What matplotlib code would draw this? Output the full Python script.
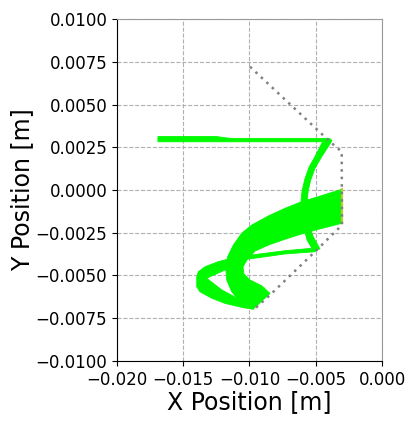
import numpy as np
import matplotlib
matplotlib.use("Agg")
import matplotlib.pyplot as plt


# =========================
# 1. SWEPT LINK REGIONS [m]
# =========================

# upper horizontal link
bar_x = [-0.01691, -0.01253, -0.01147, -0.00393, -0.00385, -0.01691]
bar_y = [0.00313, 0.00313, 0.00302, 0.00302, 0.00282, 0.00282]

# thin curved link down to the elbow
curve_x = [-0.00438, -0.00506, -0.00549, -0.00581, -0.00602, -0.00611, -0.00608,
           -0.00589, -0.00566, -0.00521,
           -0.00468, -0.00519, -0.00547, -0.00562, -0.00564, -0.00556, -0.00538,
           -0.00506, -0.00455, -0.00393, -0.00377]
curve_y = [0.00298, 0.00195, 0.00136, 0.00068, 0.00000, -0.00058, -0.00146,
           -0.00222, -0.00292, -0.00351,
           -0.00345, -0.00273, -0.00211, -0.00135, -0.00058, 0.00000, 0.00058,
           0.00127, 0.00195, 0.00269, 0.00292]

# wide sweep from the base to the tip
sweep_x = [-0.00304, -0.00481, -0.00606, -0.00732, -0.00858, -0.00983, -0.01059,
           -0.01122, -0.01165, -0.01180, -0.01172, -0.01134, -0.01072, -0.01009,
           -0.00971, -0.00845,
           -0.00906, -0.00996, -0.01042, -0.01049, -0.01019, -0.00958, -0.00858,
           -0.00732, -0.00606, -0.00481, -0.00304]
sweep_y = [0.00004, -0.00039, -0.00068, -0.00107, -0.00152, -0.00205, -0.00253,
           -0.00322, -0.00390, -0.00449, -0.00526, -0.00595, -0.00653, -0.00682,
           -0.00696, -0.00605,
           -0.00561, -0.00526, -0.00491, -0.00450, -0.00409, -0.00357, -0.00322,
           -0.00288, -0.00257, -0.00230, -0.00195]

# link from the elbow, looping round to the tip
loop_x = [-0.00481, -0.00531, -0.00732, -0.00983, -0.01109, -0.01235, -0.01336,
          -0.01386, -0.01398, -0.01398, -0.01374, -0.01285, -0.01185, -0.01059,
          -0.00971,
          -0.00996, -0.01109, -0.01208, -0.01323, -0.01185, -0.01009, -0.00732,
          -0.00506]
loop_y = [-0.00345, -0.00341, -0.00355, -0.00380, -0.00394, -0.00419, -0.00449,
          -0.00478, -0.00507, -0.00566, -0.00595, -0.00633, -0.00663, -0.00686,
          -0.00698,
          -0.00667, -0.00626, -0.00585, -0.00516, -0.00468, -0.00404, -0.00374,
          -0.00361]

# reference configuration (dotted)
ref_x = [-0.00996, -0.00393, -0.00304, -0.00302, -0.00493, -0.00845, -0.00971]
ref_y = [0.00721, 0.00283, 0.00224, -0.00205, -0.00351, -0.00614, -0.00702]

# base segment
base_x = [-0.00300, -0.00300]
base_y = [0.00004, -0.00195]


# =========================
# 2. PLOT
# =========================

fig = plt.figure(figsize=(4.09, 4.23), dpi=100)
ax = fig.add_axes([0.286, 0.1466, 0.648, 0.8084])

green = "#00fa00"
for xs, ys in [(bar_x, bar_y), (curve_x, curve_y), (loop_x, loop_y), (sweep_x, sweep_y)]:
    ax.fill(xs, ys, color=green, lw=0.6, ec=green, zorder=2)

ax.plot(base_x, base_y, color="#b8c83a", lw=1.6, zorder=3)
ax.plot(ref_x, ref_y, color="gray", lw=1.8, linestyle=(0, (1, 2)), zorder=4)

ax.set_xlim(-0.02, 0.0)
ax.set_ylim(-0.01, 0.01)
xt = np.arange(-0.02, 0.0001, 0.005)
yt = np.arange(-0.01, 0.01001, 0.0025)
ax.set_xticks(xt)
ax.set_yticks(yt)
ax.set_xticklabels([f"{v:.3f}".replace("-", "\u2212") if abs(v) > 1e-9 else "0.000" for v in xt])
ax.set_yticklabels([f"{v:.4f}".replace("-", "\u2212") if abs(v) > 1e-9 else "0.0000" for v in yt])
ax.tick_params(labelsize=12)

ax.grid(True, linestyle="--", color="#b0b0b0", lw=0.8)
ax.set_axisbelow(True)
for side in ["top", "right"]:
    ax.spines[side].set_color("#999999")

ax.set_xlabel("X Position [m]", fontsize=17, labelpad=1)
ax.set_ylabel("Y Position [m]", fontsize=17, labelpad=1)

plt.savefig("out.png", dpi=100)
